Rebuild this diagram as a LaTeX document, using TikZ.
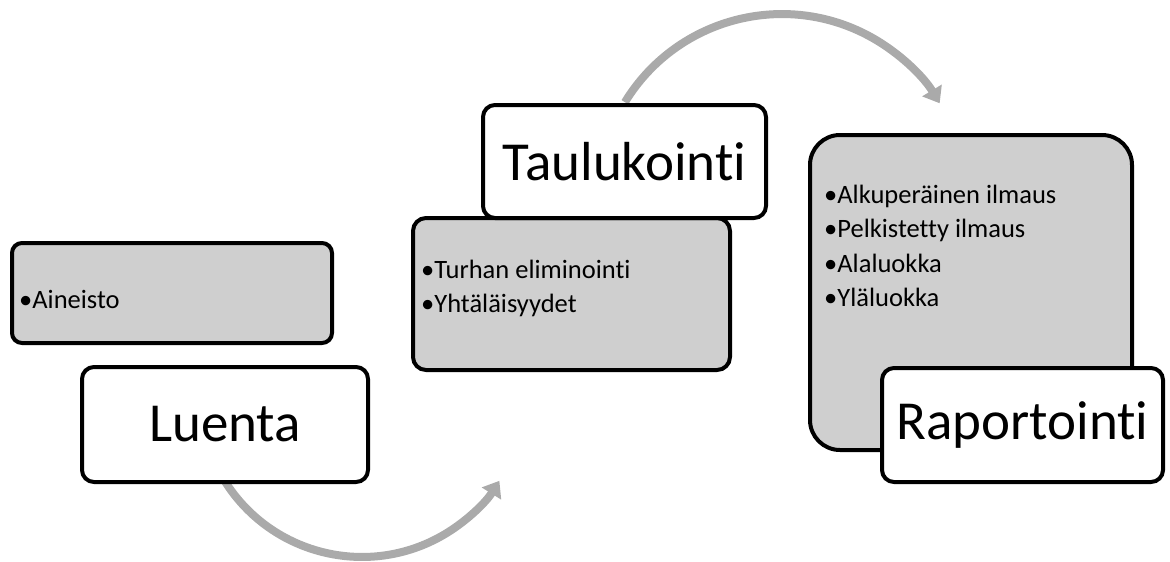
\documentclass[tikz,border=0pt]{standalone}
\usepackage{fontspec}
\setmainfont{Carlito}[Ligatures=NoCommon]
\usetikzlibrary{arrows.meta}
\definecolor{boxgray}{HTML}{CFCFCF}
\definecolor{arrowgray}{HTML}{AAAAAA}
\tikzset{
  graybox/.style={draw=black, line width=4pt, fill=boxgray, rectangle, inner sep=0pt},
  titlebox/.style={draw=black, line width=4pt, fill=white, rectangle, rounded corners=12pt, inner sep=0pt, font=\fontsize{55}{60}\selectfont},
  itemtext/.style={anchor=west, inner sep=0pt, align=left, font=\fontsize{26.5}{34.3}\selectfont},
  flowarrow/.style={draw=arrowgray, line width=8pt, -{Triangle[width=22pt,length=15pt]}}
}
\begin{document}
\begin{tikzpicture}[x=1pt,y=-1pt]
\useasboundingbox (0,0) rectangle (1170,562);
% arcs (under the boxes)
\coordinate (arcA) at (224.6,480.8);
\coordinate (arcB) at (624.9,102.2);
\draw[flowarrow] (arcA) arc[start angle=148, end angle=32, radius=162];
\draw[flowarrow] (arcB) arc[start angle=-148.6, end angle=-31, radius=184];
% left group
\node[graybox, rounded corners=10pt, minimum width=320pt, minimum height=100pt] (ain) at (172,293) {};
\node[itemtext] (aintext) at (19,299) {•Aineisto};
\node[titlebox, minimum width=286pt, minimum height=115pt] (lue) at (225,424.5) {Luenta};
% middle group
\node[graybox, rounded corners=13pt, minimum width=317pt, minimum height=152pt] (tur) at (571.5,294) {};
\node[itemtext, anchor=north west] (turtext) at (421,260) {•Turhan eliminointi\\•Yhtäläisyydet};
\node[titlebox, minimum width=283pt, minimum height=113pt] (tau) at (624.5,161.5) {Taulukointi};
% right group
\node[graybox, rounded corners=30pt, minimum width=322pt, minimum height=315pt] (alk) at (971,292.5) {};
\node[itemtext, anchor=north west] (alktext) at (824,185) {•Alkuperäinen ilmaus\\•Pelkistetty ilmaus\\•Alaluokka\\•Yläluokka};
\node[titlebox, minimum width=281pt, minimum height=114pt] (rap) at (1022.5,425) {Raportointi};
\end{tikzpicture}
\end{document}
